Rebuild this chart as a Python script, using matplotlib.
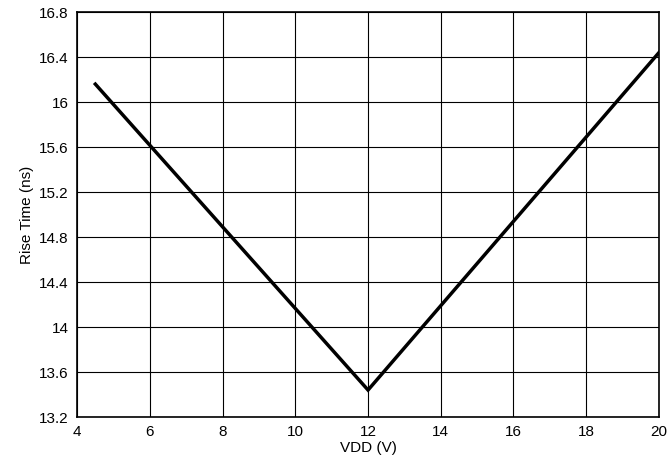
import matplotlib
matplotlib.use("Agg")
import matplotlib.pyplot as plt
from matplotlib.ticker import FormatStrFormatter

plt.rcParams['font.family'] = ['Liberation Sans', 'DejaVu Sans']

vdd = [4.5, 12, 20]
rise_time = [16.16, 13.44, 16.44]

fig = plt.figure(figsize=(6.71, 4.67), dpi=100)
ax = fig.add_axes([0.115, 0.107, 0.867, 0.867])
ax.plot(vdd, rise_time, color='black', linewidth=2.5, solid_joinstyle='miter')
ax.set_xlim(4, 20)
ax.set_ylim(13.2, 16.8)
ax.set_xticks(range(4, 21, 2))
ax.set_yticks([13.2 + 0.4 * i for i in range(10)])
ax.yaxis.set_major_formatter(FormatStrFormatter('%g'))
ax.grid(True, color='black', linewidth=0.8)
ax.tick_params(length=0, labelsize=11, pad=6)
for s in ax.spines.values():
    s.set_linewidth(1.2)
ax.set_xlabel('VDD (V)', fontsize=11, labelpad=1)
ax.set_ylabel('Rise Time (ns)', fontsize=11, labelpad=4)
fig.savefig('out.png', dpi=100)
